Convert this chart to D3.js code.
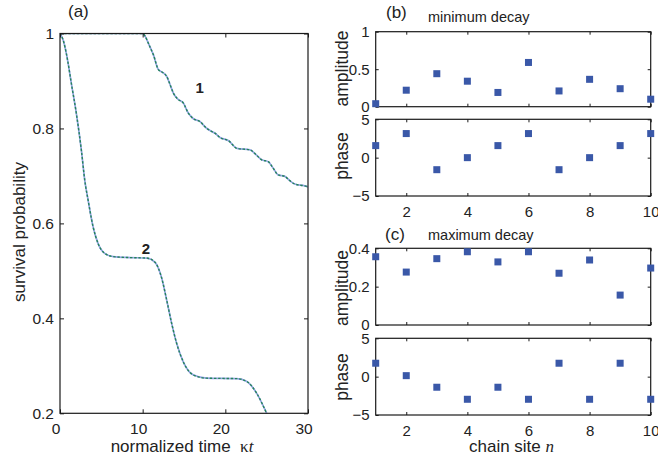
<!DOCTYPE html>
<html>
<head>
<meta charset="utf-8">
<script src="https://cdn.jsdelivr.net/npm/d3@7"></script>
<style>
  html, body { margin: 0; padding: 0; background: #fff; }
  svg { display: block; }
  text { font-family: "Liberation Sans", Arial, Helvetica, sans-serif; fill: #222; }
</style>
</head>
<body>
<svg id="chart" width="658" height="462"></svg>
<script>
// ---------------- data ----------------
// panel (a): survival probability vs normalized time
const curve1T = [0, 10.0, 10.3, 10.8, 11.3, 11.9, 12.5, 12.9, 13.3, 13.7, 14.3, 14.9, 15.5, 16.1, 16.9, 17.7, 18.2, 18.75, 19.35, 20.4, 21.4, 23.0, 23.7, 24.4, 25.2, 25.8, 26.4, 27.2, 27.8, 28.4, 29.6, 30];
const curve1P = [1, 1.0, 0.994, 0.975, 0.955, 0.924, 0.917, 0.910, 0.893, 0.875, 0.861, 0.854, 0.833, 0.821, 0.815, 0.801, 0.795, 0.790, 0.781, 0.774, 0.758, 0.755, 0.745, 0.734, 0.730, 0.716, 0.702, 0.699, 0.690, 0.683, 0.679, 0.677];
const curve2T = [0, 0.4, 0.8, 1.4, 2.0, 2.6, 3.0, 3.4, 4.0, 4.6, 5.4, 6.45, 8.5, 10.5, 11.5, 12.3, 12.9, 13.5, 14.1, 14.9, 16.1, 17.7, 21.4, 22.6, 23.8, 25.0, 25.4];
const curve2P = [1, 0.985, 0.955, 0.892, 0.829, 0.752, 0.69, 0.649, 0.593, 0.558, 0.537, 0.530, 0.528, 0.527, 0.518, 0.485, 0.439, 0.39, 0.348, 0.309, 0.281, 0.274, 0.273, 0.267, 0.242, 0.2, 0.185];
const curveLabels = ["1", "2"];

// panels (b), (c): chain sites
const sites = [1, 2, 3, 4, 5, 6, 7, 8, 9, 10];
const minAmplitude = [0.04, 0.22, 0.44, 0.34, 0.19, 0.59, 0.21, 0.365, 0.24, 0.10];
const minPhase = [1.57, 3.14, -1.57, 0, 1.57, 3.14, -1.57, 0, 1.57, 3.14];
const maxAmplitude = [0.356, 0.276, 0.346, 0.382, 0.329, 0.382, 0.27, 0.339, 0.156, 0.297];
const maxPhase = [1.75, 0.13, -1.38, -2.95, -1.38, -2.95, 1.75, -2.95, 1.75, -2.95];

// tick values
const timeTicks = [0, 10, 20, 30];
const survivalTicks = [0.2, 0.4, 0.6, 0.8, 1];
const siteTicks = [2, 4, 6, 8, 10];
const ampMinTicks = [0, 0.5, 1];
const ampMaxTicks = [0, 0.2, 0.4];
const phaseTicks = [-5, 0, 5];

// ---------------- drawing ----------------
const svg = d3.select("#chart");
const fmt = v => (v < 0 ? "\u2212" + Math.abs(v) : String(v));

function box(x0, x1, y0, y1) {
  svg.append("rect").attr("x", x0).attr("y", y0)
    .attr("width", x1 - x0).attr("height", y1 - y0)
    .attr("fill", "none").attr("stroke", "#1a1a1a").attr("stroke-width", 1.2);
}

function axes(x, y, opt) {
  const [x0, x1] = x.range();
  const [y1, y0] = y.range();
  const tl = opt.tick;
  const fs = opt.fontSize + "px";
  const gl = svg.append("g").attr("transform", `translate(${x0},0)`)
    .call(d3.axisLeft(y).tickValues(opt.yTicks).tickSize(-tl).tickSizeOuter(0).tickPadding(6).tickFormat(fmt));
  const gr = svg.append("g").attr("transform", `translate(${x1},0)`)
    .call(d3.axisRight(y).tickValues(opt.yTicks).tickSize(-tl).tickSizeOuter(0).tickFormat(""));
  const gb = svg.append("g").attr("transform", `translate(0,${y1})`)
    .call(d3.axisBottom(x).tickValues(opt.xTicks).tickSize(-tl).tickSizeOuter(0).tickPadding(10)
      .tickFormat(opt.xLabels ? fmt : ""));
  const gt = svg.append("g").attr("transform", `translate(0,${y0})`)
    .call(d3.axisTop(x).tickValues(opt.xTicks).tickSize(-tl).tickSizeOuter(0).tickFormat(""));
  [gl, gr, gb, gt].forEach(g => {
    g.select(".domain").remove();
    g.selectAll("line").attr("stroke", "#1a1a1a").attr("stroke-width", 1);
    g.selectAll("text").style("font-size", fs).style("font-family", '"Liberation Sans", Arial, sans-serif').attr("fill", "#222");
  });
  if (opt.xLabelDx) gb.selectAll("text").attr("dx", opt.xLabelDx);
  gb.selectAll("text").attr("dy", "0.71em");
  box(x0, x1, y0, y1);
}

// ---- panel (a)
const xA = d3.scaleLinear().domain([0, 30]).range([60, 308]);
const yA = d3.scaleLinear().domain([0.2, 1]).range([413.3, 33.5]);

svg.append("clipPath").attr("id", "clipA").append("rect")
  .attr("x", 60).attr("y", 33.5).attr("width", 248).attr("height", 413.3 - 33.5);

const lineA = d3.line().x(d => xA(d[0])).y(d => yA(d[1])).curve(d3.curveMonotoneX);
const c1 = curve1T.map((t, i) => [t, curve1P[i]]);
const c2 = curve2T.map((t, i) => [t, curve2P[i]]);
const gA = svg.append("g").attr("clip-path", "url(#clipA)");
[c1, c2].forEach(c => {
  gA.append("path").attr("d", lineA(c)).attr("fill", "none")
    .attr("stroke", "#93a3e4").attr("stroke-width", 1.7);
  gA.append("path").attr("d", lineA(c)).attr("fill", "none")
    .attr("stroke", "#24845a").attr("stroke-width", 1.4).attr("stroke-dasharray", "2.4,1.8");
});

axes(xA, yA, { xTicks: timeTicks, yTicks: survivalTicks, tick: 4, fontSize: 15.5, xLabels: true, xLabelDx: -4.5 });

// curve labels
svg.append("text").attr("x", xA(16.9)).attr("y", yA(0.875)).attr("text-anchor", "middle")
  .style("font-size", "15px").style("font-weight", "bold").text(curveLabels[0]);
svg.append("text").attr("x", xA(10.4)).attr("y", yA(0.535)).attr("text-anchor", "middle")
  .style("font-size", "15px").style("font-weight", "bold").text(curveLabels[1]);

// axis titles (a)
svg.append("text").attr("transform", "translate(25,232) rotate(-90)").attr("text-anchor", "middle")
  .style("font-size", "17px").text("survival probability");
const tA = svg.append("text").attr("x", 182).attr("y", 452).attr("text-anchor", "middle").style("font-size", "17px");
tA.append("tspan").text("normalized time\u00a0\u00a0");
tA.append("tspan").style("font-family", '"Liberation Serif", "Times New Roman", serif').text("\u03ba");
tA.append("tspan").style("font-family", '"Liberation Serif", "Times New Roman", serif').style("font-style", "italic").text("t");
svg.append("text").attr("x", 68).attr("y", 17).style("font-size", "17px").text("(a)");

// ---- panels (b) and (c)
const xR = d3.scaleLinear().domain([1, 10]).range([375.7, 650.7]);

function scatter(y, vals) {
  const s = 7;
  svg.append("g").selectAll("rect").data(sites).join("rect")
    .attr("x", d => xR(d) - s / 2)
    .attr("y", (d, i) => y(vals[i]) - s / 2)
    .attr("width", s).attr("height", s)
    .attr("fill", "#3a58a8");
}

function rightPanel(ampTop, ampBot, phTop, phBot, ampDomain, ampTicks, ampVals, phVals) {
  const yAmp = d3.scaleLinear().domain(ampDomain).range([ampBot, ampTop]);
  const yPh = d3.scaleLinear().domain([-5, 5]).range([phBot, phTop]);
  axes(xR, yAmp, { xTicks: siteTicks, yTicks: ampTicks, tick: 3, fontSize: 15, xLabels: false });
  axes(xR, yPh, { xTicks: siteTicks, yTicks: phaseTicks, tick: 3, fontSize: 15, xLabels: true });
  scatter(yAmp, ampVals);
  scatter(yPh, phVals);
}

rightPanel(31.7, 106.7, 119.3, 196, [0, 1], ampMinTicks, minAmplitude, minPhase);
rightPanel(248.3, 325, 338.3, 415, [0, 0.4], ampMaxTicks, maxAmplitude, maxPhase);

// titles and labels on right
function yLabel(txt, cy) {
  svg.append("text").attr("transform", `translate(347.5,${cy}) rotate(-90)`).attr("text-anchor", "middle")
    .style("font-size", "17.5px").text(txt);
}
yLabel("amplitude", 68.5);
yLabel("phase", 156);
yLabel("amplitude", 288);
yLabel("phase", 377);

svg.append("text").attr("x", 386).attr("y", 18).style("font-size", "17px").text("(b)");
svg.append("text").attr("x", 428).attr("y", 21.5).style("font-size", "14.5px").text("minimum decay");
svg.append("text").attr("x", 385).attr("y", 239.5).style("font-size", "17px").text("(c)");
svg.append("text").attr("x", 428).attr("y", 239.5).style("font-size", "14.5px").text("maximum decay");

const tC = svg.append("text").attr("x", 511.5).attr("y", 451.5).attr("text-anchor", "middle").style("font-size", "17px");
tC.append("tspan").text("chain site ");
tC.append("tspan").style("font-family", '"Liberation Serif", "Times New Roman", serif').style("font-style", "italic").text("n");
</script>
</body>
</html>
